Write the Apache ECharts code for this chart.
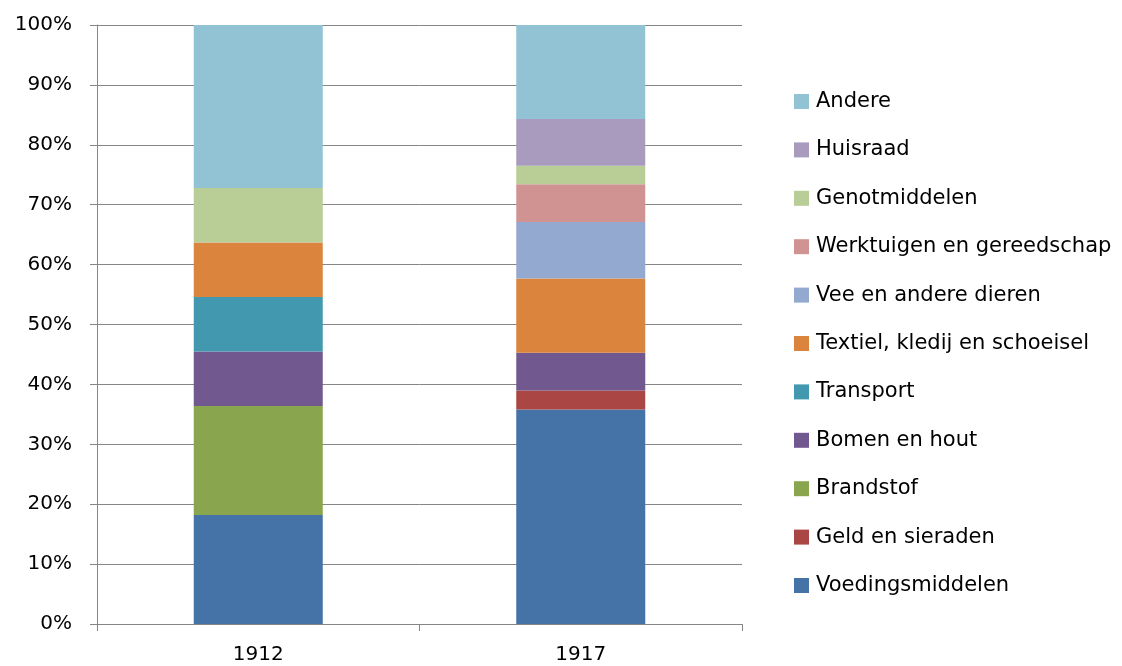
<!DOCTYPE html>
<html>
<head>
<meta charset="utf-8">
<script src="https://cdn.jsdelivr.net/npm/echarts@6/dist/echarts.min.js"></script>
<style>
html,body{margin:0;padding:0;background:#fff;}
#chart{width:1122px;height:666px;}
</style>
</head>
<body>
<div id="chart"></div>
<script>
// jaren
var years = ['1912', '1917'];
// aandeel per categorie (%)
var voeding = [18.2, 35.8];
var geld = [0, 3.2];
var brandstof = [18.2, 0];
var bomen = [9.1, 6.3];
var transport = [9.1, 0];
var textiel = [9.1, 12.4];
var vee = [0, 9.4];
var werktuigen = [0, 6.3];
var genot = [9.1, 3.1];
var huisraad = [0, 7.8];
var andere = [27.2, 15.7];
var yTicks = [0, 10, 20, 30, 40, 50, 60, 70, 80, 90, 100];

var names = ['Voedingsmiddelen', 'Geld en sieraden', 'Brandstof', 'Bomen en hout', 'Transport',
    'Textiel, kledij en schoeisel', 'Vee en andere dieren', 'Werktuigen en gereedschap',
    'Genotmiddelen', 'Huisraad', 'Andere'];
var values = [voeding, geld, brandstof, bomen, transport, textiel, vee, werktuigen, genot, huisraad, andere];
var colors = ['#4572A7', '#AA4643', '#89A54E', '#71588F', '#4198AF', '#DB843D',
    '#93A9CF', '#D19392', '#B9CD96', '#A99BBD', '#92C3D5'];

var chart = echarts.init(document.getElementById('chart'));
var series = names.map(function (n, i) {
    return {
        name: n,
        type: 'bar',
        stack: 'total',
        barWidth: '40%',
        itemStyle: {color: colors[i]},
        data: values[i]
    };
});

var font = 'DejaVu Sans';
chart.setOption({
    animation: false,
    textStyle: {fontFamily: font},
    grid: {left: 97, right: 380, top: 25, bottom: 42},
    legend: {
        orient: 'vertical',
        left: 794,
        top: 91,
        padding: 0,
        itemWidth: 15,
        itemHeight: 15,
        itemGap: 27.4,
        icon: 'rect',
        data: names.slice().reverse(),
        textStyle: {fontSize: 21, color: '#000', fontFamily: font, padding: [0, 0, 0, 2]}
    },
    xAxis: {
        type: 'category',
        data: years,
        axisLine: {lineStyle: {color: '#868686', width: 1}},
        axisTick: {show: true, length: 7, lineStyle: {color: '#868686'}},
        axisLabel: {fontSize: 20, color: '#000', margin: 21}
    },
    yAxis: {
        type: 'value',
        min: yTicks[0],
        max: yTicks[yTicks.length - 1],
        interval: 10,
        axisLine: {show: true, lineStyle: {color: '#868686', width: 1}},
        axisTick: {show: true, length: 7, inside: false, lineStyle: {color: '#868686'}},
        splitLine: {lineStyle: {color: '#868686', width: 1}},
        axisLabel: {fontSize: 20, color: '#000', margin: 25, formatter: '{value}%'}
    },
    series: series
});
</script>
</body>
</html>
